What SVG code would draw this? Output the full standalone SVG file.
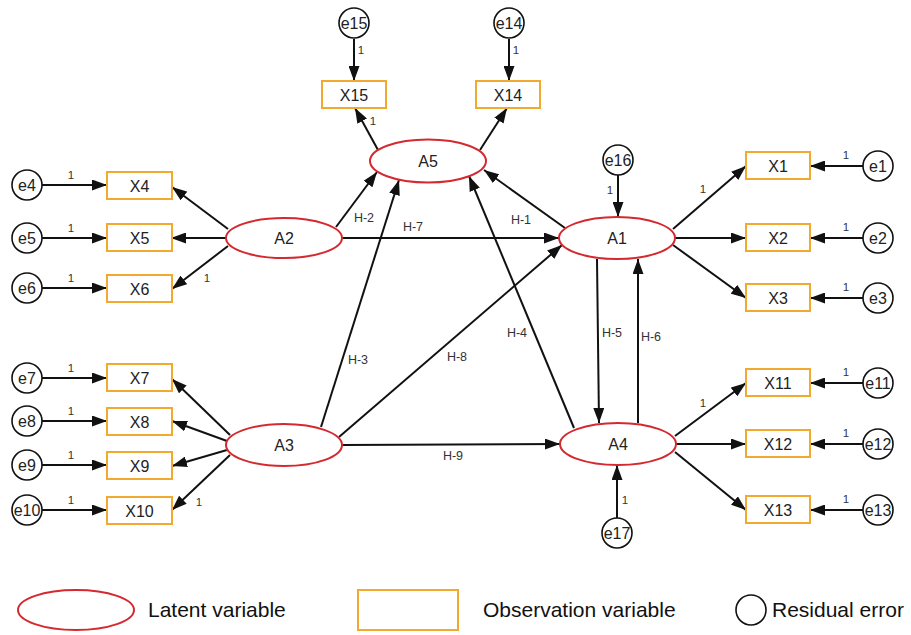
<svg xmlns="http://www.w3.org/2000/svg" width="911" height="635" viewBox="0 0 911 635">
<style>
.lat{fill:#fff;stroke:#d42a2f;stroke-width:2}
.obs{fill:#fff;stroke:#f2a930;stroke-width:2}
.err{fill:#fff;stroke:#111;stroke-width:1.6}
.t{font-family:"Liberation Sans",Arial,sans-serif;font-size:16px;fill:#222;text-anchor:middle}
.te{font-family:"Liberation Sans",Arial,sans-serif;font-size:16px;fill:#222;text-anchor:middle}
.w{font-family:"Liberation Sans",Arial,sans-serif;font-size:11.5px;fill:#333;text-anchor:middle}
.h{font-family:"Liberation Sans",Arial,sans-serif;font-size:12.5px;fill:#333;text-anchor:middle}
.lg{font-family:"Liberation Sans",Arial,sans-serif;font-size:21px;fill:#111}
.c line{stroke:#111;stroke-width:2;marker-end:url(#ah)}
</style>
<defs>
<marker id="ah" markerUnits="userSpaceOnUse" markerWidth="15" markerHeight="11" refX="15" refY="5.5" orient="auto">
<path d="M0,0 L15,5.5 L0,11 z" fill="#111"/>
</marker>
</defs>
<rect width="911" height="635" fill="#fff"/>
<g id="connectors" class="c">
<line x1="42" y1="185" x2="107" y2="185"/>
<line x1="42" y1="238" x2="107" y2="238"/>
<line x1="42" y1="288" x2="107" y2="288"/>
<line x1="42" y1="378" x2="107" y2="378"/>
<line x1="42" y1="421" x2="107" y2="421"/>
<line x1="42" y1="465" x2="107" y2="465"/>
<line x1="42" y1="510" x2="107" y2="510"/>
<line x1="863" y1="166" x2="810" y2="166"/>
<line x1="863" y1="238" x2="810" y2="238"/>
<line x1="863" y1="298" x2="810" y2="298"/>
<line x1="863" y1="383" x2="810" y2="383"/>
<line x1="863" y1="444" x2="810" y2="444"/>
<line x1="863" y1="510" x2="810" y2="510"/>
<line x1="354" y1="39" x2="354" y2="81"/>
<line x1="509" y1="39" x2="509" y2="81"/>
<line x1="378" y1="150" x2="355" y2="108"/>
<line x1="480" y1="150" x2="507" y2="108"/>
<line x1="228" y1="229" x2="172" y2="187"/>
<line x1="226" y1="238" x2="171" y2="238"/>
<line x1="228" y1="246" x2="172" y2="289"/>
<line x1="230" y1="435" x2="172" y2="379"/>
<line x1="227" y1="441" x2="172" y2="421"/>
<line x1="227" y1="450" x2="172" y2="466"/>
<line x1="230" y1="455" x2="172" y2="510"/>
<line x1="673" y1="229" x2="746" y2="166"/>
<line x1="675" y1="238" x2="746" y2="238"/>
<line x1="673" y1="245" x2="746" y2="298"/>
<line x1="675" y1="436" x2="746" y2="383"/>
<line x1="676" y1="444" x2="746" y2="444"/>
<line x1="675" y1="452" x2="746" y2="510"/>
<line x1="618" y1="175" x2="618" y2="217"/>
<line x1="617" y1="518" x2="617" y2="465"/>
<line x1="336" y1="227" x2="377" y2="172"/>
<line x1="342" y1="238" x2="559" y2="238"/>
<line x1="565" y1="228" x2="484" y2="170"/>
<line x1="321" y1="427" x2="399" y2="180"/>
<line x1="339" y1="437" x2="562" y2="245"/>
<line x1="574" y1="428" x2="469" y2="176"/>
<line x1="342" y1="445" x2="560" y2="444"/>
<line x1="597" y1="259" x2="599" y2="423"/>
<line x1="638" y1="423" x2="638" y2="259"/>
</g>
<g id="weights">
<text class="w" x="71" y="179">1</text>
<text class="w" x="71" y="232">1</text>
<text class="w" x="71" y="282">1</text>
<text class="w" x="71" y="372">1</text>
<text class="w" x="71" y="415">1</text>
<text class="w" x="71" y="459">1</text>
<text class="w" x="71" y="504">1</text>
<text class="w" x="846" y="159">1</text>
<text class="w" x="846" y="231">1</text>
<text class="w" x="846" y="291">1</text>
<text class="w" x="846" y="376">1</text>
<text class="w" x="846" y="437">1</text>
<text class="w" x="846" y="503">1</text>
<text class="w" x="361" y="54">1</text>
<text class="w" x="516" y="54">1</text>
<text class="w" x="373" y="125">1</text>
<text class="w" x="207" y="282">1</text>
<text class="w" x="199" y="506">1</text>
<text class="w" x="703" y="193">1</text>
<text class="w" x="703" y="407">1</text>
<text class="w" x="610" y="194">1</text>
<text class="w" x="625" y="504">1</text>
<text class="h" x="364" y="222">H-2</text>
<text class="h" x="413" y="231">H-7</text>
<text class="h" x="521" y="224">H-1</text>
<text class="h" x="358" y="364">H-3</text>
<text class="h" x="457" y="361">H-8</text>
<text class="h" x="517" y="337">H-4</text>
<text class="h" x="453" y="460">H-9</text>
<text class="h" x="612" y="337">H-5</text>
<text class="h" x="651" y="341">H-6</text>
</g>
<g id="A5"><ellipse class="lat" cx="428" cy="161" rx="58" ry="21.5"/><text class="t" x="428" y="167">A5</text></g>
<g id="A2"><ellipse class="lat" cx="284" cy="238" rx="58" ry="20"/><text class="t" x="284" y="244">A2</text></g>
<g id="A3"><ellipse class="lat" cx="284" cy="445" rx="58" ry="21"/><text class="t" x="284" y="451">A3</text></g>
<g id="A1"><ellipse class="lat" cx="617" cy="238" rx="58" ry="21"/><text class="t" x="617" y="244">A1</text></g>
<g id="A4"><ellipse class="lat" cx="618" cy="444" rx="58" ry="21"/><text class="t" x="618" y="450">A4</text></g>
<g id="X15"><rect class="obs" x="322" y="81" width="64" height="27"/><text class="t" x="354" y="100.5">X15</text></g>
<g id="X14"><rect class="obs" x="476" y="81" width="64" height="27"/><text class="t" x="508" y="100.5">X14</text></g>
<g id="X4"><rect class="obs" x="107" y="172" width="65" height="27"/><text class="t" x="139.5" y="191.5">X4</text></g>
<g id="X5"><rect class="obs" x="107" y="224" width="65" height="27"/><text class="t" x="139.5" y="243.5">X5</text></g>
<g id="X6"><rect class="obs" x="107" y="275" width="65" height="27"/><text class="t" x="139.5" y="294.5">X6</text></g>
<g id="X7"><rect class="obs" x="107" y="364" width="65" height="27"/><text class="t" x="139.5" y="383.5">X7</text></g>
<g id="X8"><rect class="obs" x="107" y="408" width="65" height="27"/><text class="t" x="139.5" y="427.5">X8</text></g>
<g id="X9"><rect class="obs" x="107" y="452" width="65" height="27"/><text class="t" x="139.5" y="471.5">X9</text></g>
<g id="X10"><rect class="obs" x="107" y="497" width="65" height="27"/><text class="t" x="139.5" y="516.5">X10</text></g>
<g id="X1"><rect class="obs" x="746" y="152" width="64" height="27"/><text class="t" x="778" y="171.5">X1</text></g>
<g id="X2"><rect class="obs" x="746" y="224" width="64" height="27"/><text class="t" x="778" y="243.5">X2</text></g>
<g id="X3"><rect class="obs" x="746" y="284" width="64" height="27"/><text class="t" x="778" y="303.5">X3</text></g>
<g id="X11"><rect class="obs" x="746" y="369" width="64" height="27"/><text class="t" x="778" y="388.5">X11</text></g>
<g id="X12"><rect class="obs" x="746" y="430" width="64" height="27"/><text class="t" x="778" y="449.5">X12</text></g>
<g id="X13"><rect class="obs" x="746" y="496" width="64" height="27"/><text class="t" x="778" y="515.5">X13</text></g>
<g id="e15"><circle class="err" cx="354" cy="23" r="15"/><text class="te" x="354" y="29">e15</text></g>
<g id="e14"><circle class="err" cx="509" cy="23" r="15"/><text class="te" x="509" y="29">e14</text></g>
<g id="e4"><circle class="err" cx="27" cy="185" r="15"/><text class="te" x="27" y="191">e4</text></g>
<g id="e5"><circle class="err" cx="27" cy="238" r="15"/><text class="te" x="27" y="244">e5</text></g>
<g id="e6"><circle class="err" cx="27" cy="288" r="15"/><text class="te" x="27" y="294">e6</text></g>
<g id="e7"><circle class="err" cx="27" cy="378" r="15"/><text class="te" x="27" y="384">e7</text></g>
<g id="e8"><circle class="err" cx="27" cy="421" r="15"/><text class="te" x="27" y="427">e8</text></g>
<g id="e9"><circle class="err" cx="27" cy="465" r="15"/><text class="te" x="27" y="471">e9</text></g>
<g id="e10"><circle class="err" cx="27" cy="510" r="15"/><text class="te" x="27" y="516">e10</text></g>
<g id="e1"><circle class="err" cx="878" cy="166" r="15"/><text class="te" x="878" y="172">e1</text></g>
<g id="e2"><circle class="err" cx="878" cy="238" r="15"/><text class="te" x="878" y="244">e2</text></g>
<g id="e3"><circle class="err" cx="878" cy="298" r="15"/><text class="te" x="878" y="304">e3</text></g>
<g id="e11"><circle class="err" cx="878" cy="383" r="15"/><text class="te" x="878" y="389">e11</text></g>
<g id="e12"><circle class="err" cx="878" cy="444" r="15"/><text class="te" x="878" y="450">e12</text></g>
<g id="e13"><circle class="err" cx="878" cy="510" r="15"/><text class="te" x="878" y="516">e13</text></g>
<g id="e16"><circle class="err" cx="618" cy="160" r="15"/><text class="te" x="618" y="166">e16</text></g>
<g id="e17"><circle class="err" cx="617" cy="533" r="15"/><text class="te" x="617" y="539">e17</text></g>
<g id="legend">
<ellipse class="lat" cx="76" cy="610" rx="58" ry="20"/>
<text class="lg" x="148" y="617">Latent variable</text>
<rect class="obs" x="358" y="590" width="100" height="40"/>
<text class="lg" x="483" y="617">Observation variable</text>
<circle class="err" cx="751" cy="610" r="15"/>
<text class="lg" x="772" y="617">Residual error</text>
</g>
</svg>
